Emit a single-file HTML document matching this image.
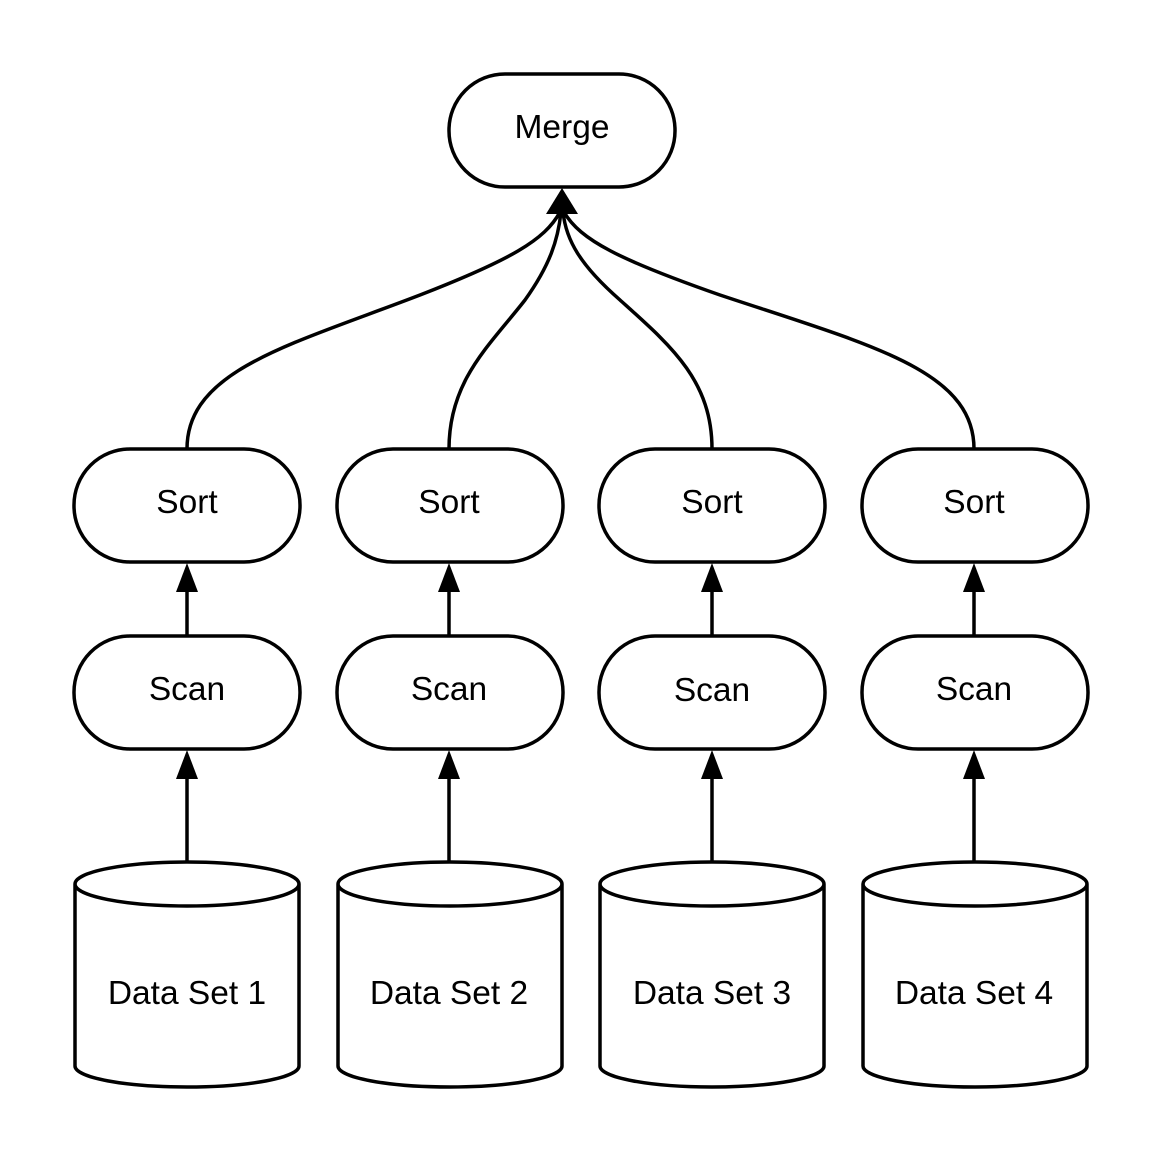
<!DOCTYPE html>
<html><head><style>body{margin:0;background:#fff}svg{display:block}</style></head><body>
<svg width="1163" height="1163" viewBox="0 0 1163 1163" xmlns="http://www.w3.org/2000/svg">
<g fill="#fff" stroke="#000" stroke-width="3.5">
<rect x="449" y="74" width="226" height="113" rx="56" ry="56"/>
<rect x="74" y="449" width="226" height="113" rx="56"/>
<rect x="337" y="449" width="226" height="113" rx="56"/>
<rect x="599" y="449" width="226" height="113" rx="56"/>
<rect x="862" y="449" width="226" height="113" rx="56"/>
<rect x="74" y="636" width="226" height="113" rx="56"/>
<rect x="337" y="636" width="226" height="113" rx="56"/>
<rect x="599" y="636" width="226" height="113" rx="56"/>
<rect x="862" y="636" width="226" height="113" rx="56"/>
</g>
<g fill="#fff" stroke="#000" stroke-width="3.5">
<path d="M75,884 L75,1066 A112,21 0 0 0 299,1066 L299,884 A112,22 0 0 0 75,884 A112,22 0 0 0 299,884"/>
<path d="M338,884 L338,1066 A112,21 0 0 0 562,1066 L562,884 A112,22 0 0 0 338,884 A112,22 0 0 0 562,884"/>
<path d="M600,884 L600,1066 A112,21 0 0 0 824,1066 L824,884 A112,22 0 0 0 600,884 A112,22 0 0 0 824,884"/>
<path d="M863,884 L863,1066 A112,21 0 0 0 1087,1066 L1087,884 A112,22 0 0 0 863,884 A112,22 0 0 0 1087,884"/>
</g>
<g fill="none" stroke="#000" stroke-width="3.5">
<path d="M187,449 C187,370 290,345 420,295 C510,260 545,240 560,212"/>
<path d="M449,449 C449,380 490,345 525,300 C550,265 558,240 561,212"/>
<path d="M712,449 C712,380 670,345 620,300 C580,265 566,240 563,212"/>
<path d="M974,449 C974,370 870,345 720,295 C620,260 580,240 564,212"/>
<path d="M187,636 V590 M449,636 V590 M712,636 V590 M974,636 V590"/>
<path d="M187,862 V777 M449,862 V777 M712,862 V777 M974,862 V777"/>
</g>
<g fill="#000">
<polygon points="562,188 546,214 578,214"/>
<polygon points="187,563 176,592 198,592"/><polygon points="449,563 438,592 460,592"/><polygon points="712,563 701,592 723,592"/><polygon points="974,563 963,592 985,592"/>
<polygon points="187,750 176,779 198,779"/><polygon points="449,750 438,779 460,779"/><polygon points="712,750 701,779 723,779"/><polygon points="974,750 963,779 985,779"/>
</g>
<g font-family="Liberation Sans, sans-serif" font-size="33.5" text-anchor="middle">
<text x="562" y="138">Merge</text>
<text x="187" y="513">Sort</text><text x="449" y="513">Sort</text><text x="712" y="513">Sort</text><text x="974" y="513">Sort</text>
<text x="187" y="700">Scan</text><text x="449" y="700">Scan</text><text x="712" y="701">Scan</text><text x="974" y="700">Scan</text>
<text x="187" y="1004">Data Set 1</text><text x="449" y="1004">Data Set 2</text><text x="712" y="1004">Data Set 3</text><text x="974" y="1004">Data Set 4</text>
</g>
</svg>
</body></html>
